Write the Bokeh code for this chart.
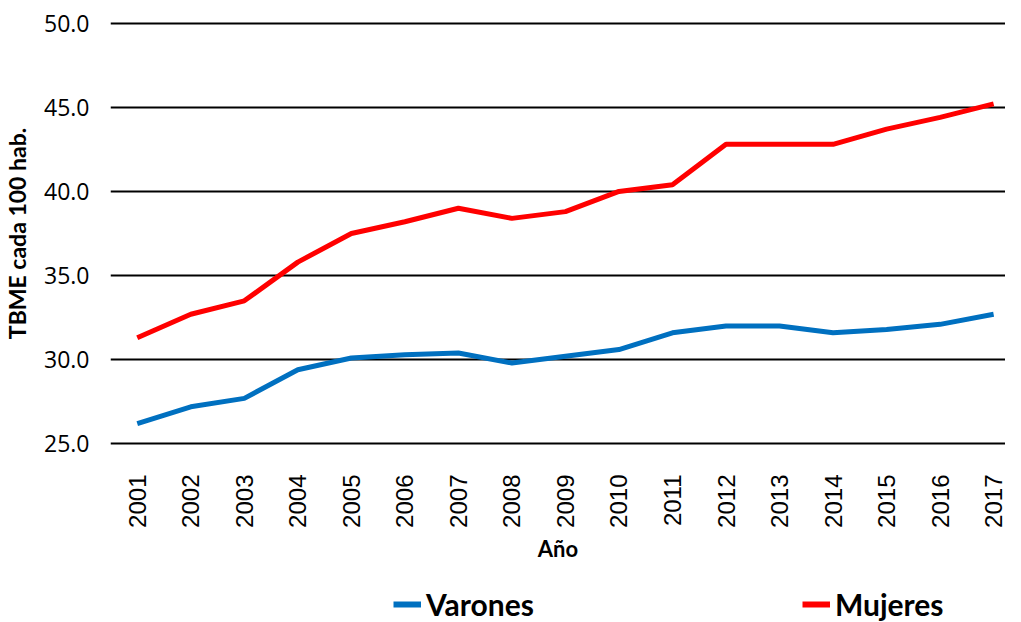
import math
from bokeh.plotting import figure
from bokeh.layouts import column
from bokeh.models import Range1d, FixedTicker, NumeralTickFormatter, Legend, LegendItem
from bokeh.embed import file_html
from bokeh.resources import INLINE

years = list(range(2001, 2018))
varones = [26.2, 27.2, 27.7, 29.4, 30.1, 30.3, 30.4, 29.8, 30.2, 30.6, 31.6, 32.0, 32.0, 31.6, 31.8, 32.1, 32.7]
mujeres = [31.3, 32.7, 33.5, 35.8, 37.5, 38.2, 39.0, 38.4, 38.8, 40.0, 40.4, 42.8, 42.8, 42.8, 43.7, 44.4, 45.2]
y_ticks = [25, 30, 35, 40, 45, 50]
x_label = "Año"
y_label = "TBME cada 100 hab."
series_names = ["Varones", "Mujeres"]
colors = ["#0070C0", "#FF0000"]

p = figure(width=1005, height=586, output_backend="svg", toolbar_location=None,
           x_range=Range1d(2000.5, 2017.222), y_range=Range1d(24.9, 50.1),
           min_border_left=102, min_border_right=0, min_border_top=21, min_border_bottom=141)
p.outline_line_color = None
p.background_fill_color = "white"
p.border_fill_color = "white"

p.line(years, varones, line_color=colors[0], line_width=5)
p.line(years, mujeres, line_color=colors[1], line_width=5)

p.xgrid.grid_line_color = None
p.ygrid.grid_line_color = "black"
p.ygrid.grid_line_width = 2
p.ygrid.ticker = FixedTicker(ticks=y_ticks)

p.yaxis.ticker = FixedTicker(ticks=y_ticks)
p.yaxis.formatter = NumeralTickFormatter(format="0.0")
p.yaxis.axis_line_color = None
p.yaxis.major_tick_line_color = None
p.yaxis.minor_tick_line_color = None
p.yaxis.major_label_text_font = "Open Sans"
p.yaxis.major_label_text_font_size = "23px"
p.yaxis.major_label_text_color = "black"
p.yaxis.major_label_standoff = 15
p.yaxis.axis_label = y_label
p.yaxis.axis_label_text_font = "Lato"
p.yaxis.axis_label_text_font_style = "bold"
p.yaxis.axis_label_text_font_size = "23px"
p.yaxis.axis_label_text_color = "black"
p.yaxis.axis_label_standoff = 10

p.xaxis.ticker = FixedTicker(ticks=years)
p.xaxis.axis_line_color = None
p.xaxis.major_tick_line_color = None
p.xaxis.minor_tick_line_color = None
p.xaxis.major_label_orientation = math.pi / 2
p.xaxis.major_label_text_font = "Liberation Sans"
p.xaxis.major_label_text_font_size = "24px"
p.xaxis.major_label_text_color = "black"
p.xaxis.major_label_standoff = 23
p.xaxis.axis_label = x_label
p.xaxis.axis_label_text_font = "Lato"
p.xaxis.axis_label_text_font_style = "bold"
p.xaxis.axis_label_text_font_size = "22px"
p.xaxis.axis_label_text_color = "black"
p.xaxis.axis_label_standoff = 4

# legend strip
lg = figure(width=1005, height=36, output_backend="svg", toolbar_location=None,
            x_range=Range1d(0, 1), y_range=Range1d(0, 1),
            x_axis_type=None, y_axis_type=None,
            min_border_left=0, min_border_right=0, min_border_top=0, min_border_bottom=0)
lg.outline_line_color = None
lg.grid.grid_line_color = None
l1 = lg.line(years, varones, line_color=colors[0], line_width=6)
l2 = lg.line(years, mujeres, line_color=colors[1], line_width=6)

legend = Legend(items=[LegendItem(label=series_names[0], renderers=[l1]),
                       LegendItem(label=series_names[1], renderers=[l2])],
                orientation="horizontal", location=(283, 0),
                spacing=268, padding=0, margin=0, border_line_color=None,
                background_fill_alpha=0, glyph_width=28, glyph_height=36, label_height=36,
                label_standoff=5, label_text_font="Lato", label_text_font_style="bold",
                label_text_font_size="30px", label_text_color="black")
lg.add_layout(legend, "center")

layout = column(p, lg, spacing=0)
open("out.html", "w").write(file_html(layout, INLINE))
